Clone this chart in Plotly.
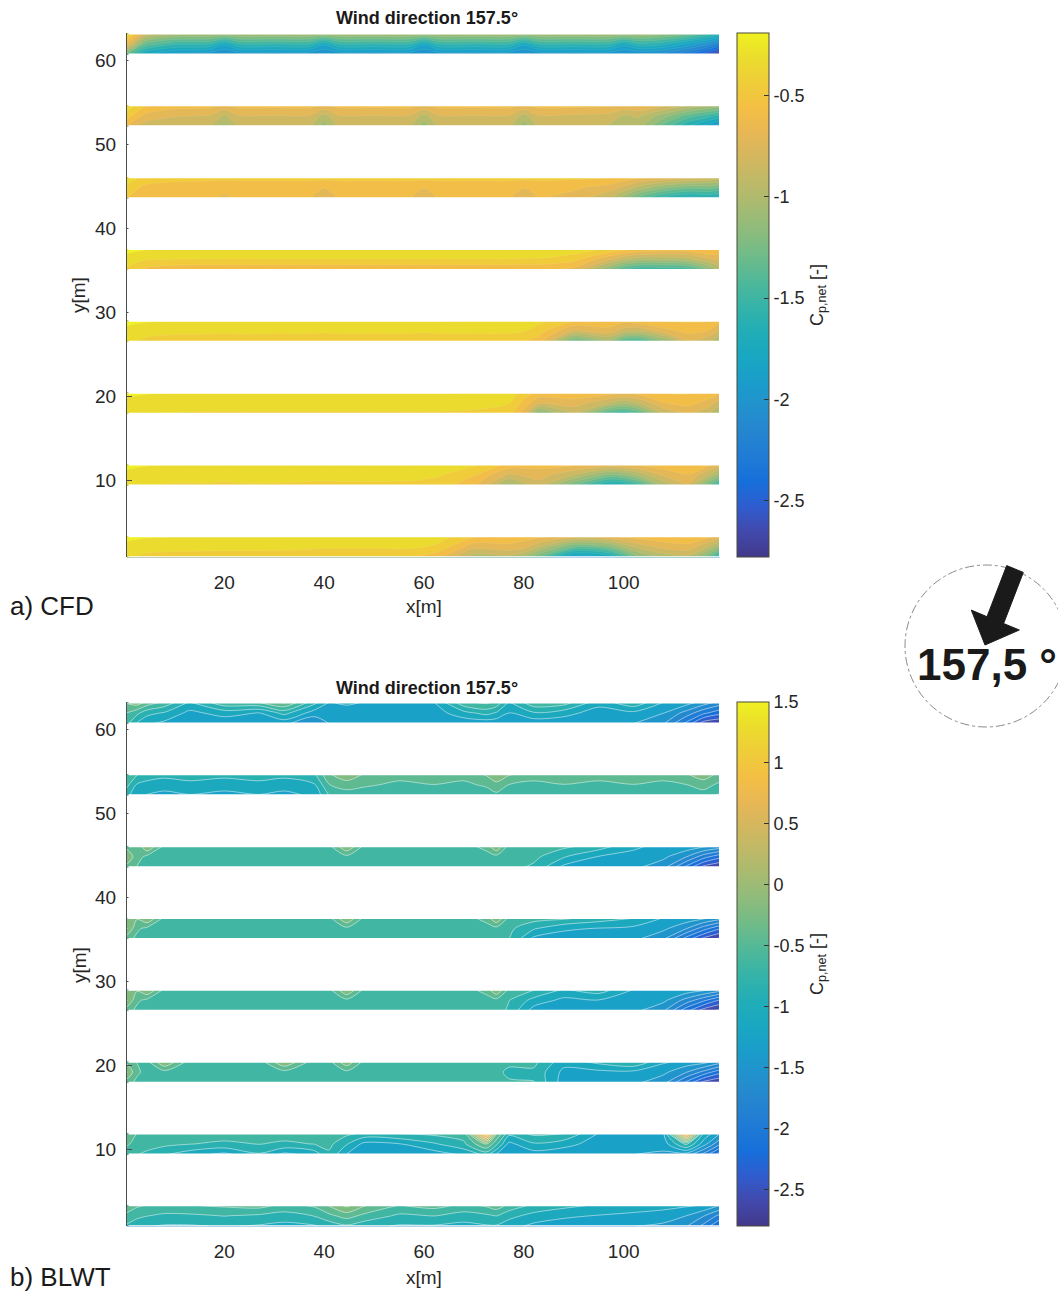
import plotly.graph_objects as go

W, H = 1058, 1296

# ---------------------------------------------------------------------------
# Geometry of the panel rows (metres)
# ---------------------------------------------------------------------------
X_RANGE = [0.5, 119.3]
Y_RANGE = [0.8, 63.2]
STRIP_Y0 = [0.8, 9.35, 17.9, 26.45, 35.0, 43.55, 52.1, 60.65]
STRIP_DEPTH = 2.5

# Sample columns along each row (x in m)
X_CFD = [0.5, 4, 10, 17, 20, 23, 30, 37, 40, 43, 50, 57, 60, 63, 70, 77, 80, 83,
         90, 97, 100, 103, 108, 113, 117, 119.3]
X_BLWT = [0.5, 2.5, 4.5, 8, 13, 20, 27, 32, 38, 41, 44.5, 48, 55, 62, 68, 72.5,
          74.5, 77, 82, 88, 95, 102, 108, 112.5, 116, 119.3]

# ---------------------------------------------------------------------------
# Net pressure coefficient Cp,net -- CFD; each row: [lower edge, centre, upper edge]
# ---------------------------------------------------------------------------
CFD_ROW1 = [
    [-0.35, -0.42, -0.45, -0.45, -0.46, -0.46, -0.47, -0.50, -0.52, -0.52, -0.53, -0.52, -0.55, -0.62, -1.00, -0.95, -1.05, -1.30, -1.95, -1.80, -1.50, -1.20, -1.00, -0.95, -1.30, -1.70],
    [-0.29, -0.32, -0.33, -0.34, -0.34, -0.34, -0.34, -0.35, -0.36, -0.36, -0.36, -0.36, -0.38, -0.42, -0.72, -0.68, -0.72, -0.88, -1.30, -1.20, -1.00, -0.85, -0.72, -0.68, -0.90, -1.10],
    [-0.22, -0.24, -0.25, -0.25, -0.25, -0.25, -0.25, -0.26, -0.26, -0.26, -0.27, -0.27, -0.28, -0.32, -0.50, -0.55, -0.58, -0.60, -0.70, -0.65, -0.60, -0.58, -0.55, -0.55, -0.60, -0.70],
]
CFD_ROW2 = [
    [-0.35, -0.38, -0.40, -0.40, -0.41, -0.40, -0.40, -0.41, -0.42, -0.41, -0.41, -0.42, -0.43, -0.45, -0.62, -1.10, -0.95, -0.85, -1.30, -1.75, -1.70, -1.50, -1.00, -0.80, -1.30, -1.65],
    [-0.29, -0.32, -0.33, -0.33, -0.34, -0.33, -0.33, -0.34, -0.34, -0.34, -0.34, -0.34, -0.35, -0.37, -0.50, -0.80, -0.75, -0.70, -0.90, -1.20, -1.15, -1.00, -0.75, -0.65, -0.90, -1.10],
    [-0.22, -0.24, -0.25, -0.25, -0.25, -0.25, -0.25, -0.25, -0.25, -0.25, -0.25, -0.25, -0.26, -0.27, -0.36, -0.55, -0.58, -0.60, -0.60, -0.65, -0.62, -0.60, -0.55, -0.55, -0.60, -0.70],
]
CFD_ROW3 = [
    [-0.35, -0.38, -0.39, -0.40, -0.40, -0.40, -0.40, -0.40, -0.40, -0.40, -0.40, -0.40, -0.40, -0.40, -0.41, -0.45, -0.70, -1.25, -0.90, -1.45, -1.55, -1.40, -0.90, -0.75, -0.90, -1.10],
    [-0.29, -0.32, -0.33, -0.33, -0.33, -0.33, -0.33, -0.33, -0.33, -0.33, -0.33, -0.33, -0.33, -0.33, -0.34, -0.38, -0.55, -0.75, -0.70, -0.90, -1.00, -0.90, -0.65, -0.60, -0.70, -0.85],
    [-0.22, -0.24, -0.25, -0.25, -0.25, -0.25, -0.25, -0.25, -0.25, -0.25, -0.25, -0.25, -0.25, -0.25, -0.26, -0.30, -0.45, -0.55, -0.55, -0.58, -0.60, -0.58, -0.50, -0.50, -0.55, -0.60],
]
CFD_ROW4 = [
    [-0.35, -0.42, -0.46, -0.48, -0.50, -0.48, -0.50, -0.50, -0.52, -0.50, -0.50, -0.50, -0.52, -0.50, -0.50, -0.50, -0.52, -0.60, -1.35, -1.10, -1.45, -1.50, -1.20, -0.80, -0.90, -1.10],
    [-0.29, -0.33, -0.35, -0.35, -0.36, -0.35, -0.35, -0.35, -0.36, -0.35, -0.35, -0.35, -0.36, -0.35, -0.35, -0.36, -0.38, -0.45, -0.80, -0.70, -0.85, -0.90, -0.70, -0.60, -0.65, -0.80],
    [-0.22, -0.24, -0.25, -0.25, -0.25, -0.25, -0.25, -0.25, -0.25, -0.25, -0.25, -0.25, -0.25, -0.25, -0.26, -0.27, -0.30, -0.35, -0.50, -0.55, -0.60, -0.55, -0.50, -0.50, -0.50, -0.60],
]
CFD_ROW5 = [
    [-0.42, -0.55, -0.62, -0.64, -0.64, -0.64, -0.64, -0.64, -0.64, -0.64, -0.64, -0.64, -0.64, -0.64, -0.64, -0.64, -0.64, -0.64, -0.70, -1.20, -1.45, -1.55, -1.55, -1.50, -1.20, -1.00],
    [-0.30, -0.37, -0.39, -0.39, -0.39, -0.39, -0.39, -0.39, -0.39, -0.39, -0.39, -0.39, -0.39, -0.39, -0.39, -0.39, -0.40, -0.40, -0.47, -0.75, -0.90, -1.00, -1.00, -0.95, -0.80, -0.75],
    [-0.22, -0.24, -0.25, -0.25, -0.25, -0.25, -0.25, -0.25, -0.25, -0.25, -0.25, -0.25, -0.25, -0.25, -0.25, -0.26, -0.26, -0.27, -0.30, -0.40, -0.45, -0.50, -0.55, -0.55, -0.50, -0.50],
]
CFD_ROW6 = [
    [-0.52, -0.60, -0.62, -0.62, -0.66, -0.62, -0.62, -0.62, -0.80, -0.62, -0.62, -0.62, -0.80, -0.62, -0.62, -0.62, -0.80, -0.64, -0.70, -0.90, -1.10, -1.35, -1.60, -1.75, -1.70, -1.75],
    [-0.42, -0.55, -0.58, -0.59, -0.62, -0.59, -0.59, -0.59, -0.64, -0.59, -0.59, -0.59, -0.64, -0.59, -0.59, -0.59, -0.64, -0.60, -0.62, -0.70, -0.80, -0.95, -1.15, -1.25, -1.25, -1.30],
    [-0.30, -0.42, -0.46, -0.47, -0.47, -0.47, -0.47, -0.47, -0.47, -0.47, -0.47, -0.47, -0.47, -0.47, -0.47, -0.47, -0.47, -0.47, -0.48, -0.50, -0.55, -0.60, -0.65, -0.70, -0.75, -0.80],
]
CFD_ROW7 = [
    [-0.65, -0.84, -0.87, -0.88, -1.08, -0.88, -0.88, -0.88, -1.10, -0.88, -0.88, -0.88, -1.10, -0.88, -0.88, -0.88, -1.10, -0.88, -0.90, -0.92, -1.05, -0.98, -1.35, -1.70, -1.90, -2.05],
    [-0.45, -0.68, -0.76, -0.78, -0.92, -0.78, -0.78, -0.78, -0.95, -0.78, -0.78, -0.78, -0.95, -0.78, -0.78, -0.78, -0.95, -0.78, -0.80, -0.82, -0.92, -0.88, -1.10, -1.35, -1.50, -1.60],
    [-0.30, -0.48, -0.58, -0.60, -0.66, -0.60, -0.60, -0.60, -0.66, -0.60, -0.60, -0.60, -0.66, -0.60, -0.60, -0.60, -0.66, -0.60, -0.60, -0.62, -0.66, -0.65, -0.75, -0.90, -1.00, -1.05],
]
CFD_ROW8 = [
    [-1.30, -1.80, -2.00, -2.05, -2.10, -2.05, -2.05, -2.05, -2.10, -2.05, -2.05, -2.05, -2.10, -2.05, -2.05, -2.05, -2.10, -2.05, -2.05, -2.05, -2.10, -2.10, -2.15, -2.35, -2.60, -2.75],
    [-0.65, -1.30, -1.52, -1.55, -1.78, -1.55, -1.55, -1.55, -1.78, -1.55, -1.55, -1.55, -1.78, -1.55, -1.55, -1.55, -1.78, -1.55, -1.55, -1.55, -1.75, -1.58, -1.65, -1.85, -2.05, -2.25],
    [-0.28, -0.80, -0.98, -1.00, -1.02, -1.00, -1.00, -1.00, -1.02, -1.00, -1.00, -1.00, -1.02, -1.00, -1.00, -1.00, -1.02, -1.00, -1.00, -1.00, -1.02, -1.02, -1.10, -1.25, -1.45, -1.60],
]

# ---------------------------------------------------------------------------
# Net pressure coefficient Cp,net -- boundary-layer wind tunnel
# ---------------------------------------------------------------------------
BLWT_ROW1 = [
    [-0.80, -0.90, -0.95, -1.00, -1.00, -0.95, -1.00, -1.05, -1.00, -0.90, -0.80, -0.90, -1.00, -1.00, -1.05, -1.00, -1.00, -1.10, -1.25, -1.30, -1.35, -1.40, -1.45, -1.60, -1.90, -2.30],
    [-0.60, -0.70, -0.75, -0.80, -0.80, -0.75, -0.80, -0.85, -0.75, -0.60, -0.45, -0.60, -0.80, -0.75, -0.85, -0.80, -0.75, -0.90, -1.05, -1.15, -1.20, -1.25, -1.30, -1.40, -1.60, -1.90],
    [-0.40, -0.50, -0.55, -0.60, -0.55, -0.50, -0.45, -0.60, -0.50, -0.30, -0.05, -0.30, -0.55, -0.45, -0.60, -0.50, -0.40, -0.60, -0.80, -0.90, -1.00, -1.05, -1.10, -1.15, -1.20, -1.40],
]
BLWT_ROW2 = [
    [-0.70, -0.75, -0.80, -0.95, -1.10, -1.25, -1.00, -1.25, -1.10, -0.80, -1.20, -1.35, -1.30, -1.30, -1.15, -0.90, -1.20, -1.35, -1.30, -1.35, -1.35, -1.40, -1.45, -1.50, -1.90, -2.40],
    [-0.50, -0.65, -0.68, -0.70, -0.75, -0.80, -0.75, -0.80, -0.75, -0.70, -0.95, -1.25, -1.20, -1.00, -0.80, -0.30, -0.70, -1.25, -1.00, -1.10, -1.30, -1.30, -1.30, -0.70, -1.30, -1.80],
    [-0.35, -0.55, -0.65, -0.65, -0.65, -0.65, -0.62, -0.65, -0.65, -0.65, -0.70, -0.80, -0.75, -0.70, -0.65, 1.10, -0.30, -0.90, -0.70, -0.75, -1.20, -1.25, -1.20, 1.00, -1.00, -1.40],
]
BLWT_ROW3 = [
    [-0.45, -0.60, -0.65, -0.65, -0.65, -0.65, -0.65, -0.65, -0.65, -0.65, -0.65, -0.65, -0.65, -0.65, -0.65, -0.65, -0.65, -0.70, -0.75, -1.30, -1.30, -1.35, -1.55, -2.10, -2.55, -2.70],
    [-0.10, -0.50, -0.62, -0.62, -0.65, -0.65, -0.65, -0.62, -0.65, -0.65, -0.60, -0.65, -0.65, -0.65, -0.65, -0.65, -0.65, -0.85, -0.80, -1.25, -1.25, -1.25, -1.35, -1.60, -1.90, -2.20],
    [-0.40, -0.55, -0.60, -0.10, -0.62, -0.65, -0.65, -0.10, -0.65, -0.60, -0.15, -0.60, -0.65, -0.65, -0.65, -0.65, -0.65, -0.65, -0.70, -1.10, -0.90, -0.75, -1.15, -1.25, -1.30, -1.50],
]
BLWT_ROW4 = [
    [-0.45, -0.60, -0.65, -0.65, -0.65, -0.65, -0.65, -0.65, -0.65, -0.65, -0.65, -0.65, -0.65, -0.65, -0.65, -0.65, -0.65, -0.80, -1.30, -1.35, -1.30, -1.35, -1.60, -2.20, -2.60, -2.75],
    [-0.10, -0.50, -0.60, -0.65, -0.65, -0.65, -0.65, -0.65, -0.65, -0.65, -0.60, -0.65, -0.65, -0.65, -0.65, -0.65, -0.62, -0.75, -1.05, -1.25, -1.20, -1.30, -1.35, -1.70, -2.00, -2.30],
    [-0.35, -0.30, -0.10, -0.60, -0.65, -0.65, -0.65, -0.65, -0.65, -0.60, -0.10, -0.60, -0.65, -0.65, -0.65, -0.45, -0.10, -0.60, -0.75, -1.00, -0.85, -1.20, -1.25, -1.25, -1.35, -1.50],
]
BLWT_ROW5 = [
    [-0.45, -0.60, -0.65, -0.65, -0.65, -0.65, -0.65, -0.65, -0.65, -0.65, -0.65, -0.65, -0.65, -0.65, -0.65, -0.65, -0.65, -0.75, -1.25, -1.30, -1.30, -1.35, -1.60, -2.15, -2.55, -2.75],
    [-0.10, -0.50, -0.60, -0.65, -0.65, -0.65, -0.65, -0.65, -0.65, -0.65, -0.60, -0.65, -0.65, -0.65, -0.65, -0.65, -0.62, -0.70, -0.95, -1.15, -1.20, -1.25, -1.35, -1.60, -1.95, -2.25],
    [-0.35, -0.30, -0.10, -0.60, -0.65, -0.65, -0.65, -0.65, -0.65, -0.60, -0.10, -0.60, -0.65, -0.65, -0.65, -0.45, -0.10, -0.60, -0.65, -0.70, -0.85, -0.95, -1.20, -1.25, -1.35, -1.50],
]
BLWT_ROW6 = [
    [-0.40, -0.55, -0.65, -0.65, -0.65, -0.65, -0.65, -0.65, -0.65, -0.65, -0.65, -0.65, -0.65, -0.65, -0.65, -0.65, -0.65, -0.68, -0.80, -1.25, -1.30, -1.35, -1.55, -2.10, -2.55, -2.70],
    [-0.15, -0.45, -0.60, -0.65, -0.65, -0.65, -0.65, -0.65, -0.65, -0.65, -0.60, -0.65, -0.65, -0.65, -0.65, -0.65, -0.62, -0.65, -0.70, -0.95, -1.20, -1.25, -1.35, -1.60, -1.95, -2.20],
    [-0.40, -0.50, -0.10, -0.60, -0.65, -0.65, -0.65, -0.65, -0.65, -0.60, -0.10, -0.60, -0.65, -0.65, -0.65, -0.45, -0.10, -0.62, -0.65, -0.70, -0.85, -1.15, -1.25, -1.25, -1.35, -1.45],
]
BLWT_ROW7 = [
    [-0.90, -1.15, -1.20, -1.25, -1.20, -1.25, -1.20, -1.25, -1.15, -0.75, -0.65, -0.70, -0.75, -0.70, -0.75, -0.70, -0.60, -0.70, -0.75, -0.70, -0.75, -0.70, -0.75, -0.70, -0.65, -0.80],
    [-0.70, -1.00, -1.05, -1.10, -1.05, -1.10, -1.05, -1.10, -1.00, -0.55, -0.45, -0.50, -0.60, -0.55, -0.60, -0.50, -0.40, -0.55, -0.60, -0.55, -0.60, -0.55, -0.60, -0.55, -0.45, -0.60],
    [-0.55, -0.75, -0.85, -0.90, -0.85, -0.90, -0.85, -0.90, -0.80, -0.35, -0.15, -0.35, -0.45, -0.35, -0.45, -0.30, -0.15, -0.30, -0.45, -0.40, -0.45, -0.40, -0.45, -0.35, -0.20, -0.40],
]
BLWT_ROW8 = [
    [-0.70, -1.00, -1.15, -1.25, -1.30, -1.35, -1.35, -1.35, -1.60, -1.40, -1.35, -1.35, -1.35, -1.35, -1.35, -1.35, -1.35, -1.35, -1.35, -1.35, -1.35, -1.40, -1.60, -2.10, -2.60, -2.70],
    [-0.55, -0.70, -0.90, -1.00, -1.25, -1.10, -1.20, -0.90, -1.30, -1.35, -1.30, -1.30, -1.30, -1.30, -1.05, -0.90, -1.00, -1.20, -1.00, -1.10, -1.30, -1.25, -1.40, -1.70, -2.00, -2.20],
    [-0.30, -0.20, -0.40, -0.60, -1.00, -0.60, -0.55, -0.30, -0.90, -1.20, -1.15, -1.20, -1.25, -1.20, -0.60, -0.50, -0.60, -1.00, -0.60, -0.65, -1.10, -0.80, -1.20, -1.30, -1.50, -1.70],
]

CFD_ROWS = [CFD_ROW1, CFD_ROW2, CFD_ROW3, CFD_ROW4, CFD_ROW5, CFD_ROW6, CFD_ROW7, CFD_ROW8]
BLWT_ROWS = [BLWT_ROW1, BLWT_ROW2, BLWT_ROW3, BLWT_ROW4, BLWT_ROW5, BLWT_ROW6, BLWT_ROW7, BLWT_ROW8]

# Colour limits of the two colour bars
CFD_CLIM = [-2.78, -0.19]
BLWT_CLIM = [-2.8, 1.5]
CFD_TICKS = [-2.5, -2, -1.5, -1, -0.5]
BLWT_TICKS = [-2.5, -2, -1.5, -1, -0.5, 0, 0.5, 1, 1.5]
X_TICKS = [20, 40, 60, 80, 100]
Y_TICKS = [10, 20, 30, 40, 50, 60]

TITLE = "<b>Wind direction 157.5°</b>"
WIND_LABEL = "<b>157,5 °</b>"

# MATLAB parula colour map, slightly muted toward grey
PARULA_HEX = ["#352a87", "#353dad", "#2052d4", "#0268e1", "#0d75dc", "#1481d6",
              "#108ed2", "#079ccf", "#06a7c6", "#0faeb9", "#25b5a9", "#42bb98",
              "#65be86", "#87bf77", "#a5be6b", "#c0bc60", "#d9ba56", "#f1b94a",
              "#ffc337", "#f9d32a", "#f5e41d", "#f9fb0e"]
MUTE = 0.12


def muted(hexcol):
    r, g, b = (int(hexcol[i:i + 2], 16) for i in (1, 3, 5))
    r, g, b = (round(c * (1 - MUTE) + 165 * MUTE) for c in (r, g, b))
    return f"rgb({r},{g},{b})"


PARULA = [[i / (len(PARULA_HEX) - 1), muted(c)] for i, c in enumerate(PARULA_HEX)]

FONT = "Liberation Sans, Arial, sans-serif"
N_LEVELS = 20


def px_x(p):
    return p / W


def px_y(p):
    return 1 - p / H


fig = go.Figure()


def add_panel(xnodes, rows_list, clim, ticks, xa, ya, line_style, cb_center_px):
    cmin, cmax = clim
    cs = (cmax - cmin) / N_LEVELS
    for y0, rows in zip(STRIP_Y0, rows_list):
        fig.add_trace(go.Contour(
            x=xnodes,
            y=[y0, y0 + STRIP_DEPTH / 2, y0 + STRIP_DEPTH],
            z=rows,
            xaxis=xa, yaxis=ya,
            colorscale=PARULA,
            autocontour=False,
            contours=dict(start=cmin + cs / 2, end=cmax - cs / 2 + 1e-9, size=cs,
                          coloring="fill"),
            line=line_style,
            showscale=False,
            hoverinfo="skip",
        ))
    # continuous colour bar
    fig.add_trace(go.Scatter(
        x=[None], y=[None], mode="markers", xaxis=xa, yaxis=ya,
        showlegend=False, hoverinfo="skip",
        marker=dict(
            color=[cmin, cmax], cmin=cmin, cmax=cmax, colorscale=PARULA,
            showscale=True,
            colorbar=dict(
                x=737 / W, xanchor="left", xpad=0, ypad=0,
                y=px_y(cb_center_px), yanchor="middle",
                len=524 / H, lenmode="fraction",
                thickness=32, thicknessmode="pixels",
                outlinewidth=1, outlinecolor="#4a4a3a",
                tickmode="array", tickvals=ticks, ticktext=[f"{t:g}" for t in ticks],
                ticks="inside", ticklen=5, tickcolor="#333333",
                tickfont=dict(family=FONT, size=18, color="#262626"),
                title=dict(text="C<sub>p,net</sub> [-]", side="right",
                           font=dict(family=FONT, size=18, color="#262626")),
            ),
        ),
    ))


add_panel(X_CFD, CFD_ROWS, CFD_CLIM, CFD_TICKS, "x", "y",
          dict(width=0.5, color="rgba(255,255,255,0.18)", smoothing=0.85), 295)
add_panel(X_BLWT, BLWT_ROWS, BLWT_CLIM, BLWT_TICKS, "x2", "y2",
          dict(width=0.7, color="rgba(255,255,255,0.7)", smoothing=0.85), 964)

xdom = [127 / W, 720 / W]
axis_x = dict(range=X_RANGE, domain=xdom, tickvals=X_TICKS, showgrid=False,
              zeroline=False, showline=False, ticks="", ticklabelstandoff=12,
              tickfont=dict(family=FONT, size=19, color="#262626"))
axis_y = dict(range=Y_RANGE, tickvals=Y_TICKS, showgrid=False, zeroline=False,
              showline=True, linecolor="#4d4d4d", linewidth=1,
              ticks="inside", ticklen=5, tickcolor="#4d4d4d", ticklabelstandoff=6,
              tickfont=dict(family=FONT, size=19, color="#262626"))

fig.update_layout(
    width=W, height=H,
    margin=dict(l=0, r=0, t=0, b=0),
    paper_bgcolor="white", plot_bgcolor="white",
    showlegend=False,
    xaxis=dict(axis_x, anchor="y"),
    yaxis=dict(axis_y, domain=[px_y(557.28), px_y(33.12)], anchor="x"),
    xaxis2=dict(axis_x, anchor="y2"),
    yaxis2=dict(axis_y, domain=[px_y(1226.28), px_y(702.12)], anchor="x2"),
)

ann = []
for ty, xl, yl, lab, ly in [(18, 606, 295, "a) CFD", 606), (688, 1277, 965, "b) BLWT", 1277)]:
    ann.append(dict(text=TITLE, x=px_x(427), y=px_y(ty), xref="paper", yref="paper",
                    xanchor="center", yanchor="middle", showarrow=False,
                    font=dict(family=FONT, size=18, color="#1a1a1a")))
    ann.append(dict(text="x[m]", x=px_x(424), y=px_y(xl), xref="paper", yref="paper",
                    xanchor="center", yanchor="middle", showarrow=False,
                    font=dict(family=FONT, size=19, color="#262626")))
    ann.append(dict(text="y[m]", x=px_x(79), y=px_y(yl), xref="paper", yref="paper",
                    xanchor="center", yanchor="middle", showarrow=False, textangle=-90,
                    font=dict(family=FONT, size=19, color="#262626")))
    ann.append(dict(text=lab, x=px_x(8), y=px_y(ly), xref="paper", yref="paper",
                    xanchor="left", yanchor="middle", showarrow=False,
                    font=dict(family=FONT, size=26, color="#1a1a1a")))

ann.append(dict(text=WIND_LABEL, x=px_x(987), y=px_y(664), xref="paper", yref="paper",
                xanchor="center", yanchor="middle", showarrow=False,
                font=dict(family=FONT, size=44, color="#1a1a1a")))
fig.update_layout(annotations=ann)

# White gaps between the panel rows (also trims anti-aliased fill seams)
shapes = []
for xr, yr in (("x", "y"), ("x2", "y2")):
    edges = [Y_RANGE[0] - 1] + [y0 for y0 in STRIP_Y0]
    tops = [y0 + STRIP_DEPTH for y0 in STRIP_Y0]
    gaps = [(Y_RANGE[0] - 1, STRIP_Y0[0] + 0.12)]
    gaps += [(tops[k] - 0.12, STRIP_Y0[k + 1] + 0.12) for k in range(len(STRIP_Y0) - 1)]
    gaps += [(tops[-1] - 0.12, Y_RANGE[1] + 1)]
    for ya0, ya1 in gaps:
        shapes.append(dict(type="rect", xref=xr, yref=yr, layer="above",
                           x0=0.8, x1=X_RANGE[1] + 2, y0=ya0, y1=ya1,
                           fillcolor="white", line=dict(width=0)))
    shapes.append(dict(type="rect", xref=xr, yref=yr, layer="above",
                       x0=X_RANGE[1] - 0.2, x1=X_RANGE[1] + 2,
                       y0=Y_RANGE[0] - 1, y1=Y_RANGE[1] + 1,
                       fillcolor="white", line=dict(width=0)))

# Wind-direction symbol: dash-dot circle and a filled arrow
arrow_px = [(1006.7, 565.6), (1023.3, 572.4), (1003.6, 623.5), (1019.3, 630.0),
            (985.0, 645.0), (971.3, 610.1), (987.0, 616.7)]
path = "M " + " L ".join(f"{px_x(a):.5f},{px_y(b):.5f}" for a, b in arrow_px) + " Z"
shapes += [
    dict(type="circle", xref="paper", yref="paper",
         x0=px_x(905), x1=px_x(1067), y0=px_y(727), y1=px_y(565),
         line=dict(color="#8a8a8a", width=1, dash="dashdot")),
    dict(type="path", xref="paper", yref="paper", path=path,
         fillcolor="#1a1a1a", line=dict(color="#1a1a1a", width=1)),
]
fig.update_layout(shapes=shapes)

fig.write_html("out.html")
